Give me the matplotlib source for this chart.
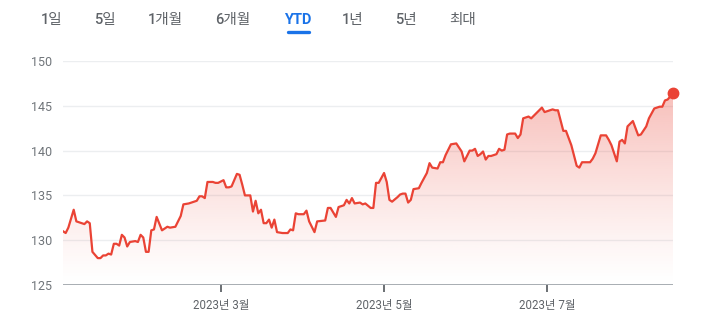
import numpy as np
import pandas as pd
import matplotlib
matplotlib.use("Agg")
import matplotlib.pyplot as plt
import matplotlib.dates as mdates
from matplotlib.lines import Line2D

# days since 2023-01-01 and closing price
days = [0, 1, 2, 4, 5, 6, 8, 9, 10, 11, 13, 14, 15, 16, 17, 18, 19, 20, 21, 22,
        23, 24, 25, 27, 28, 29, 30, 31, 32, 33, 34, 35, 37, 39, 40, 42, 44, 45, 47, 48,
        50, 51, 52, 53, 54, 56, 57, 58, 60, 61, 62, 63, 65, 66,
        67, 68, 70, 71, 72, 73, 74, 75, 76, 77, 78, 79, 80, 82, 84, 85, 86, 87, 88, 90,
        91, 92, 94, 95, 98, 99, 100, 102, 103, 105, 106, 107, 108, 109, 111, 112, 113,
        115, 116, 117, 118, 120, 121, 122, 123, 125, 126, 127, 128, 129, 130, 131, 133,
        134, 136, 137, 138, 140, 141, 142, 143, 145, 147, 149, 150, 152,
        153, 154, 155, 156, 157, 158, 159, 160, 162, 163, 164, 165, 166, 167, 169, 170,
        171, 172, 174, 175, 177, 179, 180, 181, 183, 184, 185, 187, 188, 190, 192, 193,
        194, 197, 198, 199, 201, 203, 204, 205, 207, 208, 209, 210, 211, 213, 214, 215,
        216, 218, 219, 221, 223, 224, 225, 226, 228]
price = [131.0, 130.8, 131.4, 133.4, 132.1, 132.0, 131.8, 132.1, 131.9, 128.7, 128.0, 128.0,
         128.3, 128.3, 128.5, 128.4, 129.6, 129.6, 129.4, 130.6, 130.3, 129.3, 129.8, 129.9,
         129.8, 130.6, 130.3, 128.7, 128.7, 131.1, 131.2, 132.6, 131.1, 131.5, 131.4, 131.5,
         132.7, 134.0, 134.1, 134.2, 134.4, 134.9, 134.9, 134.7, 136.5, 136.5, 136.4, 136.4,
         136.7, 135.9, 135.9, 136.0, 137.4, 137.3,
         136.2, 135.0, 135.0, 133.2, 134.4, 133.0, 133.4, 131.9, 131.9, 132.3, 131.4, 132.3,
         130.9, 130.8, 130.8, 131.2, 131.1, 133.0, 132.9, 132.9, 133.3, 132.1, 130.9, 132.1,
         132.2, 133.6, 133.6, 132.6, 133.7, 133.9, 134.5, 134.1, 134.7, 134.1, 134.2, 134.0,
         134.1, 133.6, 133.6, 136.4, 136.4, 137.5, 136.5, 134.5, 134.3, 134.8, 135.1, 135.2,
         135.2, 134.2, 134.5, 135.7, 135.8, 136.4, 137.5, 138.6, 138.1, 138.0, 138.7, 138.7,
         139.5, 140.7, 140.8, 139.9, 138.8, 140.0,
         140.0, 140.2, 139.4, 139.6, 139.9, 139.0, 139.4, 139.4, 139.6, 140.2, 140.0, 140.1,
         141.8, 141.9, 141.9, 141.4, 141.8, 143.6, 143.8, 143.6, 144.2, 144.8, 144.3, 144.4,
         144.6, 144.5, 144.5, 142.2, 142.2, 140.6, 138.3, 138.1, 138.7, 138.7, 139.1, 139.7,
         141.7, 141.7, 141.2, 140.6, 138.8, 141.0, 141.2, 140.8, 142.7, 143.3, 142.5, 141.7,
         141.8, 142.7, 143.6, 144.7, 144.9, 144.9, 145.6, 145.7, 146.4]

tabs = ["1일", "5일", "1개월", "6개월", "YTD", "1년", "5년", "최대"]
tab_x = [52, 105, 165, 233, 298, 353, 406, 463]
active_tab = "YTD"
yticks = [125, 130, 135, 140, 145, 150]
xtick_dates = ["2023-03-01", "2023-05-01", "2023-07-01"]
xtick_labels = ["2023년 3월", "2023년 5월", "2023년 7월"]

plt.rcParams['font.family'] = ['Roboto', 'Noto Sans CJK KR', 'DejaVu Sans']

RED = "#ea4335"
GRAY = "#70757a"
W, H = 702, 322

dates = pd.Timestamp("2023-01-01") + pd.to_timedelta(days, unit="D")
xn = mdates.date2num(dates)
x0 = mdates.date2num(pd.Timestamp("2023-01-01"))

fig = plt.figure(figsize=(W / 100, H / 100), dpi=100)
ax = fig.add_axes([63 / W, 37 / H, (673 - 63) / W, 224 / H])

# gradient fill under the line
ymin, ymax = 125, 150
grad = np.linspace(0, 1, 256).reshape(-1, 1)
rgba = np.zeros((256, 1, 4))
rgba[..., :3] = matplotlib.colors.to_rgb(RED)
rgba[..., 3] = 0.36 * grad ** 1.2
poly = ax.fill_between(xn, price, ymin, color="none", lw=0)
img = ax.imshow(rgba, aspect="auto", origin="lower",
                extent=[x0, xn[-1], ymin, 147.5], zorder=1)
img.set_clip_path(poly.get_paths()[0], transform=ax.transData)

ax.plot(xn, price, color=RED, lw=1.6, zorder=3, solid_joinstyle="round")
ax.plot(xn[-1], price[-1], "o", color=RED, ms=7.5, zorder=4, clip_on=False)

ax.set_xlim(x0, xn[-1])
ax.set_ylim(ymin, ymax)
ax.set_yticks(yticks)
ax.set_yticklabels([str(v) for v in yticks])
for v in yticks[1:]:
    ax.axhline(v, color="#eceef0", lw=1, zorder=0)
ax.axhline(ymin, color="#9aa0a6", lw=1.2, zorder=2)

for s in ax.spines.values():
    s.set_visible(False)
ax.tick_params(axis="y", length=0, pad=8, labelsize=9, labelcolor=GRAY)
ax.set_xticks(mdates.date2num(pd.to_datetime(xtick_dates)))
ax.set_xticklabels(xtick_labels)
ax.tick_params(axis="x", length=5, width=1.3, color="#5f6368", pad=5,
               labelsize=8.3, labelcolor="#5f6368")
ax.set_facecolor("white")

# range selector tabs
for t, x in zip(tabs, tab_x):
    c = "#1a73e8" if t == active_tab else "#5f6368"
    fig.text(x / W, 1 - 20 / H, t, ha="center", va="center", fontsize=10.5,
             color=c, fontweight="bold" if t == active_tab else "medium")
fig.add_artist(Line2D([288 / W, 309 / W], [1 - 31.5 / H, 1 - 31.5 / H],
                      color="#1a73e8", lw=2.4, solid_capstyle="round"))

fig.savefig("out.png", dpi=100)
